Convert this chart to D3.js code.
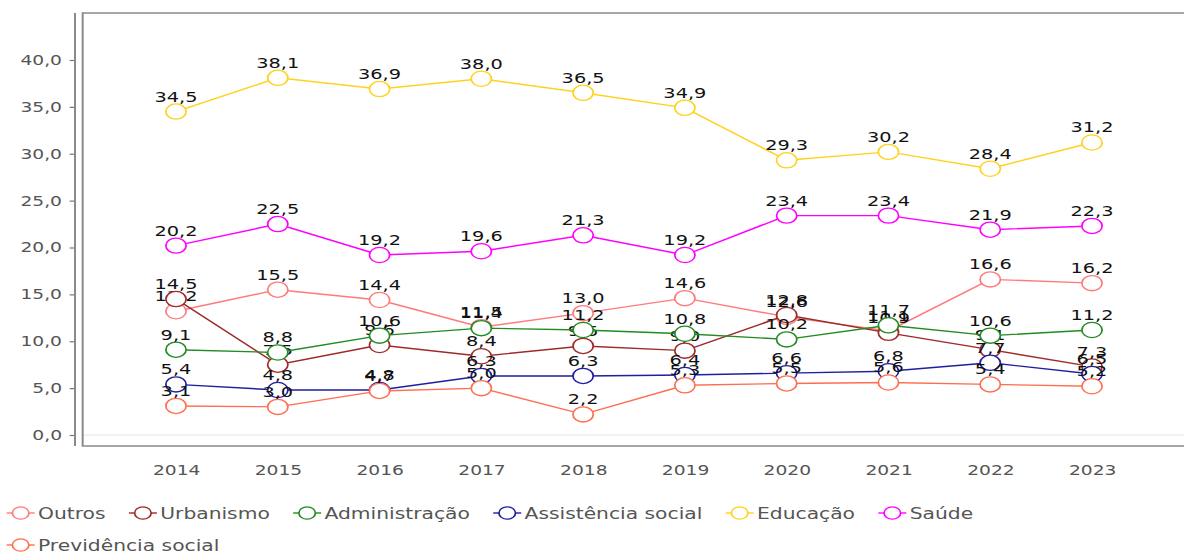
<!DOCTYPE html>
<html>
<head>
<meta charset="utf-8">
<script src="https://cdn.jsdelivr.net/npm/d3@7"></script>
<style>
  html, body { margin: 0; padding: 0; background: #fff; }
  svg { display: block; }
  text { font-family: "DejaVu Sans", Verdana, sans-serif; }
</style>
</head>
<body>
<svg id="chart" width="1184" height="557"></svg>
<script>
// ---------- data ----------
const years = ["2014", "2015", "2016", "2017", "2018", "2019", "2020", "2021", "2022", "2023"];
const yTicks = [0, 5, 10, 15, 20, 25, 30, 35, 40];

const outros        = [13.2, 15.5, 14.4, 11.5, 13.0, 14.6, 12.6, 11.1, 16.6, 16.2];
const urbanismo     = [14.5, 7.5, 9.6, 8.4, 9.5, 9.0, 12.8, 10.9, 9.1, 7.3];
const administracao = [9.1, 8.8, 10.6, 11.4, 11.2, 10.8, 10.2, 11.7, 10.6, 11.2];
const assistencia   = [5.4, 4.8, 4.8, 6.3, 6.3, 6.4, 6.6, 6.8, 7.7, 6.5];
const educacao      = [34.5, 38.1, 36.9, 38.0, 36.5, 34.9, 29.3, 30.2, 28.4, 31.2];
const saude         = [20.2, 22.5, 19.2, 19.6, 21.3, 19.2, 23.4, 23.4, 21.9, 22.3];
const previdencia   = [3.1, 3.0, 4.7, 5.0, 2.2, 5.3, 5.5, 5.6, 5.4, 5.2];

const seriesNames = ["Outros", "Urbanismo", "Administração", "Assistência social", "Educação", "Saúde", "Previdência social"];
const seriesValues = [outros, urbanismo, administracao, assistencia, educacao, saude, previdencia];
const seriesColors = ["#FF7B7B", "#9E2A2A", "#228B22", "#1F1FA0", "#FFD21F", "#FF00FF", "#FF6E50"];

// ---------- layout ----------
const W = 1184, H = 557;
const SX = 4 / 3;                 // horizontal stretch of the original picture
const IW = W / SX;                // inner width
const fmt = v => d3.format(".1f")(v).replace(".", ",");

const svg = d3.select("#chart");
const g = svg.append("g").attr("transform", `scale(${SX},1)`);

const x = d3.scalePoint().domain(years).range([132, 819]);
const y = d3.scaleLinear().domain([0, 40]).range([435, 60]);

const boxLeft = 62, boxTop = 13, boxBottom = 446;

// plot frame
g.append("rect")
  .attr("x", boxLeft).attr("y", boxTop)
  .attr("width", IW + 50 - boxLeft).attr("height", boxBottom - boxTop)
  .attr("fill", "none").attr("stroke", "#8a8a8a").attr("stroke-width", 1.5);

// zero grid line
g.append("line")
  .attr("x1", boxLeft + 1).attr("x2", IW + 10)
  .attr("y1", y(0)).attr("y2", y(0))
  .attr("stroke", "#e6e6e6").attr("stroke-width", 1);

// y axis
const yAxis = g.append("g")
  .attr("transform", "translate(56.25,0)")
  .call(d3.axisLeft(y).tickValues(yTicks).tickSize(4).tickPadding(5.75).tickFormat(fmt));
yAxis.select(".domain").remove();
yAxis.selectAll(".tick line").attr("stroke", "#777").attr("stroke-width", 1.2);
yAxis.selectAll(".tick text").attr("fill", "#555").attr("font-size", 14)
  .attr("font-family", "DejaVu Sans");
yAxis.append("line")
  .attr("x1", 0).attr("x2", 0)
  .attr("y1", boxTop).attr("y2", boxBottom)
  .attr("stroke", "#8a8a8a").attr("stroke-width", 1.5);

// x axis labels
const xAxis = g.append("g")
  .attr("transform", `translate(0,${boxBottom})`)
  .call(d3.axisBottom(x).tickSize(0).tickPadding(19));
xAxis.select(".domain").remove();
xAxis.selectAll(".tick text").attr("fill", "#555").attr("font-size", 14)
  .attr("font-family", "DejaVu Sans");

// series
const line = d3.line().x((d, i) => x(years[i])).y(d => y(d));
seriesValues.forEach((vals, si) => {
  const col = seriesColors[si];
  const sg = g.append("g");
  sg.append("path").datum(vals)
    .attr("d", line).attr("fill", "none")
    .attr("stroke", col).attr("stroke-width", 1.4);
  sg.selectAll("circle").data(vals).join("circle")
    .attr("cx", (d, i) => x(years[i])).attr("cy", d => y(d))
    .attr("r", 7.6).attr("fill", "#fff")
    .attr("stroke", col).attr("stroke-width", 1.3);
  sg.selectAll("text").data(vals).join("text")
    .attr("x", (d, i) => x(years[i])).attr("y", d => y(d) - 10)
    .attr("text-anchor", "middle").attr("font-size", 14.5).attr("fill", "#111")
    .text(d => fmt(d));
});

// legend (flow layout)
const leg = g.append("g");
let lx = 5, ly = 513;
const rowH = 32, maxX = IW - 10;
seriesNames.forEach((name, si) => {
  const col = seriesColors[si];
  const item = leg.append("g");
  const t = item.append("text")
    .attr("x", 23.5).attr("y", 5.5)
    .attr("font-size", 15.2).attr("fill", "#555")
    .text(name);
  const tw = t.node().getComputedTextLength();
  const itemW = 23.5 + tw;
  if (lx + itemW > maxX) { lx = 5; ly += rowH; }
  item.attr("transform", `translate(${lx},${ly})`);
  item.append("line").attr("x1", 0).attr("x2", 21).attr("y1", 0).attr("y2", 0)
    .attr("stroke", col).attr("stroke-width", 1.4);
  item.append("circle").attr("cx", 10.5).attr("cy", 0).attr("r", 6.2)
    .attr("fill", "#fff").attr("stroke", col).attr("stroke-width", 1.3);
  lx += itemW + 17.5;
});
</script>
</body>
</html>
